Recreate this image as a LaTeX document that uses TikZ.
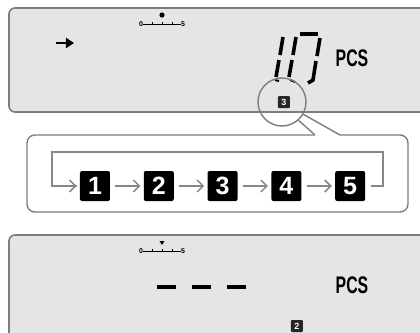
\documentclass[tikz,border=0pt]{standalone}
\usepackage{fontspec}
\setmainfont{Liberation Sans}
\usepackage{tikz}
\usetikzlibrary{arrows.meta,positioning,calc}
\definecolor{lcdgray}{RGB}{229,229,229}
\definecolor{framegray}{RGB}{125,125,125}
\definecolor{flowgray}{RGB}{135,135,135}

\begin{document}
\begin{tikzpicture}[x=0.5pt, y=-0.5pt, node distance=16.5pt,
  panel/.style={draw=framegray, line width=0.8pt, fill=lcdgray, rounded corners=3pt},
  membox/.style={fill=black, text=white, rounded corners=1pt, minimum size=15pt, inner sep=0pt, font=\bfseries\fontsize{12.5}{12.5}\selectfont},
  memicon/.style={fill=black!85, text=white, rounded corners=0.5pt, minimum size=6pt, inner sep=0pt, font=\bfseries\fontsize{4.5}{4.5}\selectfont},
  flow/.style={draw=flowgray, line width=0.75pt, -{Straight Barb[length=3pt,width=6pt]}},
  seg/.style={line width=1.8pt},
  unit/.style={font=\bfseries\fontsize{12}{12}\selectfont, xscale=0.66, inner sep=0pt},
  scalelbl/.style={font=\bfseries\fontsize{3.5}{3.5}\selectfont, inner sep=0pt}]
\useasboundingbox (0,0) rectangle (420,333);
\clip (0,0) rectangle (420,333);
% upper display
\draw[panel] (9,8) rectangle (440,112);
\draw[line width=1.4pt, -{Triangle[length=4pt,width=5pt]}] (56,43) -- (74,43);
\node[scalelbl] (scaleA0) at (141,24) {0};
\node[scalelbl] (scaleA5) at (183,24) {5};
\draw[line width=0.5pt] (scaleA0.east) -- (scaleA5.west);
\foreach \t in {152,162,172} \draw[line width=0.4pt] (\t,24) -- (\t,22);
\fill (162,15) circle[radius=1.3pt];
\draw[seg] (283,37) -- (280,55) (279,60) -- (276,77);
\draw[seg] (296,37) -- (293,55) (292,60) -- (289,77);
\draw[seg] (300,34) -- (318,34);
\draw[seg] (320,38) -- (317,56) (316,61) -- (313,80) -- (308,83);
\draw[line width=1pt] (275,80) -- (279,81) (290,80) -- (295,82);
\node[unit] (pcsA) at (352,58) {PCS};
\node[memicon] (memA) at (284,102) {3};
\node[draw=framegray, line width=0.7pt, circle, minimum size=24pt, inner sep=0pt] (lens) at (282,102) {};
% callout
\draw[draw=framegray, line width=0.7pt] (lens.-48) -- (315,135);
\draw[draw=framegray, line width=0.7pt, rounded corners=4pt] (315,135) -- (27,135) -- (27,212) -- (408,212) -- (408,135) -- (340,135);
\draw[draw=framegray, line width=0.7pt] (340,135) -- (lens.-30);
\node[membox] (m1) at (95,186) {1};
\node[membox, right=of m1] (m2) {2};
\node[membox, right=of m2] (m3) {3};
\node[membox, right=of m3] (m4) {4};
\node[membox, right=of m4] (m5) {5};
\foreach \a/\b in {m1/m2, m2/m3, m3/m4, m4/m5}
  \draw[flow, shorten <=2.5pt, shorten >=1.5pt] (\a.east) -- (\b.west);
\coordinate (loopR) at (383,152);
\coordinate (loopL) at (52,152);
\draw[flow, -] ([xshift=2.5pt]m5.east) -| (loopR) -- (loopL) |- ([xshift=-1.5pt]m1.west);
\draw[flow] ($(m1.west)+(-8pt,0)$) -- ([xshift=-1.5pt]m1.west);
% lower display
\draw[panel] (9,235) rectangle (440,360);
\node[scalelbl] (scaleB0) at (141,251) {0};
\node[scalelbl] (scaleB5) at (183,251) {5};
\draw[line width=0.5pt] (scaleB0.east) -- (scaleB5.west);
\foreach \t in {152,162,172} \draw[line width=0.4pt] (\t,251) -- (\t,249);
\fill (159.5,241) -- (164.5,241) -- (162,245) -- cycle;
\foreach \d in {157,192,227} \draw[line width=1.7pt] (\d,287) -- ++(19,0);
\node[unit] (pcsB) at (352,285) {PCS};
\node[memicon] (memB) at (297,326) {2};
\end{tikzpicture}
\end{document}
